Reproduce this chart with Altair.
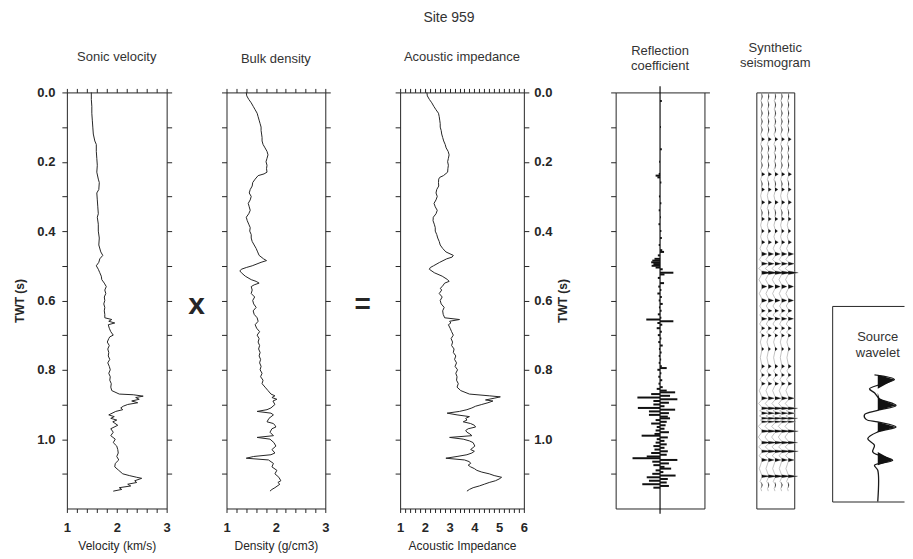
import altair as alt
import pandas as pd

FONT = "Liberation Sans"
INK = "#262626"
PANEL_H = 417

# ---------------- axes / tick values ----------------
TWT_DOMAIN = [0.0, 1.2]
TWT_TICKS = [0.0, 0.1, 0.2, 0.3, 0.4, 0.5, 0.6, 0.7, 0.8, 0.9, 1.0, 1.1]
VEL_TICKS = [1.0, 1.2, 1.4, 1.6, 1.8, 2.0, 2.2, 2.4, 2.6, 2.8, 3.0]
DEN_TICKS = [1.0, 1.2, 1.4, 1.6, 1.8, 2.0, 2.2, 2.4, 2.6, 2.8, 3.0]
IMP_TICKS = [1.0, 1.2, 1.4, 1.6, 1.8, 2.0, 2.2, 2.4, 2.6, 2.8, 3.0, 3.2, 3.4,
             3.6, 3.8, 4.0, 4.2, 4.4, 4.6, 4.8, 5.0, 5.2, 5.4, 5.6, 5.8, 6.0]
RC_DOMAIN = [-0.2, 0.2]
RC_AXIS_SPAN = [-0.018, 1.215]
SEIS_TRACES = [1, 2, 3, 4, 5]
SEIS_DOMAIN = [0.2, 5.9]
WAV_X_DOMAIN = [-45.7, 26.3]
WAV_Y_DOMAIN = [-69, 127]

# ---------------- sonic velocity (km/s) ----------------
vel_t = [0.00, 0.02, 0.04, 0.06, 0.08, 0.10, 0.12, 0.14, 0.15, 0.17,
         0.19, 0.21, 0.23, 0.25, 0.26, 0.28, 0.29, 0.31, 0.33, 0.35,
         0.36, 0.38, 0.40, 0.42, 0.44, 0.46, 0.47, 0.48, 0.49, 0.50,
         0.51, 0.52, 0.53, 0.54, 0.55, 0.56, 0.57, 0.58, 0.59, 0.60,
         0.61, 0.62, 0.63, 0.64, 0.65, 0.655, 0.66, 0.665, 0.67, 0.68,
         0.69, 0.70, 0.705, 0.71, 0.72, 0.73, 0.74, 0.75, 0.76, 0.77,
         0.78, 0.79, 0.80, 0.81, 0.82, 0.83, 0.84, 0.85, 0.86, 0.87,
         0.872, 0.876, 0.88, 0.885, 0.89, 0.895, 0.90, 0.905, 0.91, 0.915,
         0.92, 0.93, 0.935, 0.94, 0.945, 0.95, 0.96, 0.97, 0.98, 0.99,
         1.00, 1.01, 1.02, 1.03, 1.04, 1.05, 1.06, 1.07, 1.08, 1.09,
         1.10, 1.105, 1.11, 1.113, 1.12, 1.125, 1.13, 1.135, 1.14, 1.145,
         1.15]
vel_v = [1.49, 1.49, 1.50, 1.50, 1.51, 1.52, 1.53, 1.56, 1.59, 1.59,
         1.60, 1.61, 1.60, 1.63, 1.65, 1.64, 1.60, 1.61, 1.62, 1.63,
         1.61, 1.63, 1.63, 1.65, 1.64, 1.68, 1.72, 1.66, 1.64, 1.59,
         1.63, 1.66, 1.69, 1.70, 1.75, 1.79, 1.76, 1.78, 1.75, 1.76,
         1.74, 1.76, 1.75, 1.76, 1.76, 1.90, 1.84, 1.96, 1.83, 1.85,
         1.88, 1.93, 1.86, 1.84, 1.81, 1.85, 1.82, 1.84, 1.83, 1.86,
         1.82, 1.85, 1.87, 1.84, 1.87, 1.86, 1.89, 1.88, 1.90, 2.05,
         2.33, 2.53, 2.38, 2.45, 2.30, 2.42, 2.22, 2.13, 2.08, 2.12,
         1.98, 1.84, 1.95, 1.88, 2.00, 1.92, 2.02, 1.88, 1.93, 1.88,
         1.97, 1.93, 2.00, 2.02, 2.03, 2.00, 2.04, 1.97, 1.96, 2.04,
         2.12, 2.25, 2.40, 2.50, 2.36, 2.40, 2.22, 2.28, 2.05, 2.10,
         1.93]

# ---------------- bulk density (g/cm3) ----------------
den_t = [0.00, 0.01, 0.02, 0.03, 0.04, 0.05, 0.06, 0.07, 0.08, 0.09,
         0.10, 0.11, 0.12, 0.13, 0.14, 0.15, 0.16, 0.17, 0.18, 0.19,
         0.20, 0.21, 0.22, 0.23, 0.235, 0.24, 0.25, 0.26, 0.27, 0.28,
         0.29, 0.30, 0.31, 0.32, 0.33, 0.34, 0.35, 0.36, 0.37, 0.38,
         0.39, 0.40, 0.41, 0.42, 0.43, 0.44, 0.45, 0.46, 0.47, 0.48,
         0.485, 0.49, 0.50, 0.505, 0.51, 0.515, 0.52, 0.53, 0.54, 0.545,
         0.55, 0.555, 0.56, 0.57, 0.58, 0.59, 0.60, 0.61, 0.62, 0.63,
         0.64, 0.65, 0.66, 0.67, 0.68, 0.69, 0.70, 0.71, 0.72, 0.73,
         0.74, 0.75, 0.76, 0.77, 0.78, 0.79, 0.80, 0.81, 0.82, 0.83,
         0.84, 0.85, 0.86, 0.87, 0.875, 0.88, 0.885, 0.89, 0.90, 0.91,
         0.915, 0.92, 0.925, 0.93, 0.94, 0.95, 0.955, 0.96, 0.965, 0.97,
         0.98, 0.99, 0.995, 1.00, 1.01, 1.02, 1.03, 1.04, 1.045, 1.05,
         1.055, 1.06, 1.07, 1.08, 1.09, 1.10, 1.11, 1.12, 1.125, 1.13,
         1.14, 1.145, 1.15]
den_v = [1.40, 1.41, 1.45, 1.50, 1.54, 1.58, 1.62, 1.64, 1.66, 1.68,
         1.70, 1.70, 1.71, 1.72, 1.72, 1.74, 1.78, 1.82, 1.84, 1.82,
         1.80, 1.82, 1.81, 1.82, 1.76, 1.64, 1.58, 1.53, 1.52, 1.48,
         1.46, 1.50, 1.48, 1.44, 1.46, 1.48, 1.45, 1.40, 1.42, 1.45,
         1.48, 1.47, 1.50, 1.50, 1.52, 1.56, 1.60, 1.63, 1.66, 1.75,
         1.81, 1.70, 1.52, 1.40, 1.30, 1.27, 1.30, 1.38, 1.50, 1.60,
         1.66, 1.56, 1.50, 1.52, 1.50, 1.57, 1.53, 1.55, 1.60, 1.54,
         1.56, 1.62, 1.64, 1.58, 1.61, 1.67, 1.62, 1.66, 1.64, 1.67,
         1.65, 1.68, 1.66, 1.69, 1.67, 1.70, 1.68, 1.72, 1.69, 1.74,
         1.72, 1.78, 1.84, 1.90, 1.98, 1.92, 2.02, 1.94, 1.98, 1.90,
         1.82, 1.62, 1.90, 1.95, 1.86, 1.82, 1.95, 1.98, 2.00, 1.92,
         1.88, 1.95, 1.62, 1.88, 1.96, 2.00, 1.92, 1.98, 1.90, 1.55,
         1.40, 1.85, 1.95, 1.92, 2.02, 1.98, 2.06, 2.10, 2.04, 2.08,
         1.98, 1.92, 1.88]

# ---------------- acoustic impedance ----------------
imp_t = [0.00, 0.01, 0.02, 0.03, 0.04, 0.05, 0.06, 0.07, 0.08, 0.09,
         0.10, 0.11, 0.12, 0.13, 0.14, 0.15, 0.16, 0.17, 0.18, 0.19,
         0.20, 0.21, 0.22, 0.23, 0.24, 0.245, 0.25, 0.26, 0.27, 0.28,
         0.29, 0.30, 0.31, 0.32, 0.33, 0.34, 0.35, 0.36, 0.37, 0.38,
         0.39, 0.40, 0.41, 0.42, 0.43, 0.44, 0.45, 0.46, 0.47, 0.475,
         0.48, 0.49, 0.50, 0.505, 0.51, 0.52, 0.53, 0.54, 0.545, 0.55,
         0.56, 0.565, 0.57, 0.58, 0.59, 0.60, 0.61, 0.62, 0.63, 0.64,
         0.65, 0.655, 0.66, 0.665, 0.67, 0.68, 0.69, 0.70, 0.71, 0.72,
         0.73, 0.74, 0.75, 0.76, 0.77, 0.78, 0.79, 0.80, 0.81, 0.82,
         0.83, 0.84, 0.85, 0.86, 0.87, 0.875, 0.878, 0.882, 0.887, 0.89,
         0.895, 0.90, 0.905, 0.91, 0.915, 0.92, 0.925, 0.93, 0.935, 0.94,
         0.945, 0.95, 0.955, 0.96, 0.965, 0.97, 0.975, 0.98, 0.985, 0.99,
         0.995, 1.00, 1.005, 1.01, 1.02, 1.03, 1.035, 1.04, 1.045, 1.05,
         1.055, 1.06, 1.065, 1.07, 1.075, 1.08, 1.085, 1.09, 1.095, 1.10,
         1.105, 1.11, 1.115, 1.12, 1.125, 1.13, 1.135, 1.14, 1.145, 1.15]
imp_v = [2.08, 2.10, 2.18, 2.28, 2.36, 2.45, 2.55, 2.58, 2.60, 2.62,
         2.62, 2.66, 2.68, 2.72, 2.76, 2.82, 2.86, 2.94, 2.98, 2.95,
         2.92, 2.95, 2.93, 2.92, 2.75, 2.60, 2.56, 2.55, 2.56, 2.48,
         2.45, 2.50, 2.45, 2.37, 2.42, 2.50, 2.45, 2.34, 2.33, 2.38,
         2.42, 2.42, 2.48, 2.52, 2.58, 2.62, 2.72, 2.85, 3.15, 3.10,
         2.88, 2.60, 2.35, 2.22, 2.18, 2.38, 2.70, 2.92, 2.98, 2.80,
         2.70, 2.62, 2.68, 2.58, 2.70, 2.62, 2.66, 2.78, 2.72, 2.74,
         2.80, 3.40, 3.00, 3.05, 2.95, 3.02, 3.08, 3.15, 3.06, 3.12,
         3.08, 3.18, 3.15, 3.25, 3.20, 3.28, 3.22, 3.32, 3.25, 3.30,
         3.28, 3.35, 3.30, 3.45, 3.80, 4.60, 5.05, 4.80, 4.45, 4.75,
         4.55, 4.30, 4.05, 3.90, 3.70, 3.40, 2.90, 3.30, 3.80, 3.65,
         3.70, 3.55, 3.85, 4.00, 4.05, 3.75, 3.65, 3.70, 3.82, 3.90,
         3.00, 3.55, 3.80, 3.95, 4.02, 3.85, 4.00, 3.90, 3.70, 3.30,
         2.85, 3.60, 3.80, 3.85, 3.75, 3.85, 4.00, 4.10, 4.30, 4.60,
         4.80, 5.10, 5.00, 4.85, 4.60, 4.40, 4.20, 3.95, 3.80, 3.70]

# ---------------- reflection coefficient ----------------
rc_t = [0.025, 0.10, 0.164, 0.20, 0.235, 0.24, 0.245, 0.26, 0.30, 0.32,
        0.34, 0.36, 0.38, 0.40, 0.42, 0.44, 0.455, 0.46, 0.47, 0.48,
        0.485, 0.49, 0.495, 0.50, 0.505, 0.51, 0.52, 0.525, 0.535, 0.55,
        0.56, 0.57, 0.58, 0.59, 0.60, 0.61, 0.62, 0.63, 0.64, 0.65,
        0.655, 0.66, 0.665, 0.67, 0.68, 0.69, 0.70, 0.71, 0.72, 0.73,
        0.74, 0.75, 0.76, 0.77, 0.78, 0.79, 0.795, 0.80, 0.81, 0.82,
        0.83, 0.84, 0.85, 0.855, 0.86, 0.865, 0.87, 0.875, 0.88, 0.885,
        0.89, 0.895, 0.90, 0.905, 0.91, 0.915, 0.92, 0.925, 0.93, 0.935,
        0.94, 0.945, 0.95, 0.955, 0.96, 0.965, 0.97, 0.975, 0.98, 0.985,
        0.99, 0.995, 1.00, 1.005, 1.01, 1.015, 1.02, 1.025, 1.03, 1.035,
        1.04, 1.045, 1.05, 1.055, 1.06, 1.065, 1.07, 1.075, 1.08, 1.085,
        1.09, 1.095, 1.10, 1.105, 1.11, 1.115, 1.12, 1.125, 1.13, 1.135,
        1.14]
rc_r = [0.008, 0.004, 0.008, -0.004, -0.006, -0.020, -0.012, 0.006, -0.005, 0.006,
        -0.006, 0.004, -0.007, 0.006, 0.008, -0.006, 0.010, 0.018, -0.010, -0.025,
        -0.035, -0.040, -0.030, -0.038, -0.020, 0.012, 0.060, 0.020, -0.010, 0.018,
        -0.008, 0.006, -0.012, 0.008, -0.006, 0.012, -0.005, 0.007, -0.010, 0.006,
        -0.062, 0.060, -0.012, 0.010, -0.015, 0.008, -0.010, 0.006, -0.008, 0.012,
        -0.005, 0.007, -0.006, 0.005, -0.006, 0.008, 0.030, -0.012, 0.006, -0.008,
        0.010, -0.007, 0.012, -0.015, 0.030, 0.068, -0.040, 0.045, -0.102, 0.078,
        -0.030, 0.040, -0.030, 0.020, -0.100, 0.068, -0.050, 0.040, -0.050, 0.035,
        0.045, -0.020, 0.030, -0.040, 0.025, -0.015, 0.020, -0.020, 0.040, -0.025,
        -0.083, 0.035, -0.015, 0.020, -0.020, 0.030, -0.030, 0.020, -0.025, 0.035,
        -0.040, 0.030, -0.060, -0.124, 0.078, -0.035, 0.040, -0.030, 0.020, 0.050,
        -0.020, 0.015, -0.035, 0.070, -0.060, 0.035, -0.050, 0.030, -0.080, 0.040,
        -0.030]

# ---------------- synthetic seismogram trace ----------------
seis_t = [0.000, 0.012, 0.024, 0.036, 0.048, 0.060, 0.072, 0.084, 0.096, 0.108,
          0.120, 0.129, 0.135, 0.141, 0.150, 0.162, 0.174, 0.186, 0.198, 0.210,
          0.222, 0.230, 0.236, 0.242, 0.252, 0.264, 0.274, 0.280, 0.286, 0.298,
          0.311, 0.317, 0.323, 0.335, 0.347, 0.359, 0.365, 0.371, 0.383, 0.394,
          0.400, 0.406, 0.416, 0.426, 0.432, 0.438, 0.450, 0.460, 0.466, 0.472,
          0.482, 0.489, 0.494, 0.499, 0.508, 0.515, 0.520, 0.525, 0.540, 0.554,
          0.560, 0.566, 0.580, 0.594, 0.600, 0.606, 0.616, 0.625, 0.630, 0.635,
          0.642, 0.648, 0.653, 0.658, 0.668, 0.675, 0.680, 0.685, 0.692, 0.696,
          0.701, 0.706, 0.720, 0.734, 0.740, 0.746, 0.765, 0.784, 0.790, 0.796,
          0.803, 0.810, 0.815, 0.820, 0.828, 0.835, 0.840, 0.845, 0.860, 0.877,
          0.882, 0.887, 0.897, 0.907, 0.911, 0.915, 0.918, 0.921, 0.925, 0.929,
          0.933, 0.937, 0.940, 0.943, 0.945, 0.947, 0.950, 0.953, 0.963, 0.973,
          0.977, 0.981, 0.994, 1.006, 1.010, 1.014, 1.022, 1.031, 1.035, 1.039,
          1.048, 1.055, 1.060, 1.065, 1.085, 1.103, 1.107, 1.111, 1.122, 1.132,
          1.142, 1.150]
seis_a = [0.0, 0.12, -0.12, 0.12, -0.12, 0.12, -0.12, 0.12, -0.12, 0.12,
          -0.15, 0.0, 0.45, 0.0, -0.15, 0.12, -0.12, 0.12, -0.12, 0.12,
          -0.15, 0.0, 0.5, 0.0, -0.15, 0.12, 0.0, 0.45, 0.0, -0.15,
          0.0, 0.5, 0.0, -0.15, 0.12, 0.0, 0.45, 0.0, -0.15, 0.0,
          0.4, 0.0, -0.15, 0.0, 0.5, 0.0, -0.25, 0.0, 0.8, 0.0,
          -0.35, 0.0, 0.9, 0.0, -0.45, 0.0, 1.5, 0.0, -0.4, 0.0,
          0.8, 0.0, -0.35, 0.0, 0.8, 0.0, -0.3, 0.0, 0.55, 0.0,
          -0.3, 0.0, 0.8, 0.0, -0.3, 0.0, 0.5, 0.0, -0.25, 0.0,
          0.45, 0.0, -0.2, 0.0, 0.35, 0.0, -0.2, 0.0, 0.45, 0.0,
          -0.2, 0.0, 0.45, 0.0, -0.25, 0.0, 0.55, 0.0, -0.35, 0.0,
          0.9, 0.0, -0.45, 0.0, 1.4, 0.0, -0.3, 0.0, 1.0, 0.0,
          -0.35, 0.0, 1.4, 0.0, -0.2, 0.0, 1.1, 0.0, -0.5, 0.0,
          1.5, 0.0, -0.5, 0.0, 1.4, 0.0, -0.45, 0.0, 1.5, 0.0,
          -0.4, 0.0, 0.9, 0.0, -0.35, 0.0, 1.4, 0.0, -0.25, 0.12,
          -0.12, 0.0]

# ---------------- source wavelet ----------------
wav_t = [0, 4.7, 14, 18, 24, 30.7, 35.7, 40, 44.7, 47.3, 52.3, 57.3, 64, 70.7,
         77.3, 85.7, 90.7, 95.7, 127]
wav_a = [-3.3, 16.7, -8.3, -3.3, 1.7, 18.3, 0, -13.3, -11.7, 0, 18.3, 0, -10,
         -3.3, -5, 15, -3.3, 0, 0]

# ---------------- helpers ----------------
Y_LABEL_EXPR = "(round(datum.value * 10) % 2 == 0) ? format(datum.value, '.1f') : ''"
X_LABEL_EXPR = "abs(datum.value - round(datum.value)) < 0.01 ? toString(round(datum.value)) : ''"


def y_axis(orient, labels):
    kw = dict(orient=orient, values=TWT_TICKS, tickSize=5, labelFlush=False,
              labelOverlap=False, domain=False, grid=False, tickColor=INK)
    if labels:
        kw.update(labels=True, labelExpr=Y_LABEL_EXPR, title="TWT (s)",
                  labelFontSize=13, labelFontWeight="bold", labelColor=INK,
                  labelFont=FONT, titleFont=FONT, titleFontSize=12,
                  titleFontWeight="bold", titleColor=INK, labelPadding=7,
                  titlePadding=10)
        if orient == "right":
            kw.update(titleAngle=270, titleBaseline="top", titlePadding=6,
                      labelPadding=5)
    else:
        kw.update(labels=False, title="")
    return alt.Axis(**kw)


def x_axis_bottom(ticks, title):
    return alt.Axis(orient="bottom", values=ticks, labelExpr=X_LABEL_EXPR,
                    tickSize=4, labelFlush=False, labelOverlap=False,
                    domain=False, grid=False, tickColor=INK, title=title,
                    labelFont=FONT, labelFontSize=13, labelFontWeight="bold",
                    labelColor=INK, labelPadding=9, titleFont=FONT,
                    titleFontSize=12, titleFontWeight="normal",
                    titleColor=INK, titlePadding=6)


def x_axis_top(ticks):
    return alt.Axis(orient="top", values=ticks, labels=False, tickSize=4,
                    domain=False, grid=False, tickColor=INK, title="")


def frame_axis(orient):
    return alt.Axis(orient=orient, domain=True, domainColor=INK, domainWidth=1,
                    ticks=False, labels=False, grid=False, title="")


def panel_title(text, offset):
    return alt.Title(text, font=FONT, fontSize=13, fontWeight="normal",
                     color="#333333", offset=offset, lineHeight=15)


TWT_SCALE = alt.Scale(domain=TWT_DOMAIN, reverse=True, nice=False, zero=False)


def log_panel(t, v, domain, ticks, xtitle, ptitle, left_labels, right_labels, width):
    df = pd.DataFrame({"t": t, "v": v})
    xs = alt.Scale(domain=domain, nice=False, zero=False)
    main = alt.Chart(df).mark_line(color=INK, strokeWidth=1).encode(
        x=alt.X("v:Q", scale=xs, axis=x_axis_bottom(ticks, xtitle)),
        y=alt.Y("t:Q", scale=TWT_SCALE, axis=y_axis("left", left_labels)),
        order="t:Q",
    )
    ghost = alt.Chart(df).mark_line(strokeOpacity=0).encode(
        x=alt.X("v:Q", scale=xs, axis=x_axis_top(ticks)),
        y=alt.Y("t:Q", scale=TWT_SCALE, axis=y_axis("right", right_labels)),
        order="t:Q",
    )
    return alt.layer(main, ghost).resolve_axis(x="independent", y="independent").properties(
        width=width, height=PANEL_H, title=panel_title(ptitle, 22))


def spacer(w, h, symbol="", size=28):
    return alt.Chart(pd.DataFrame({"s": [symbol]})).mark_text(
        font=FONT, fontSize=size, fontWeight="bold", color=INK, dy=5
    ).encode(text="s:N").properties(
        width=w, height=h, view=alt.ViewBackground(stroke="transparent"))


# ---------------- panels ----------------
vel = log_panel(vel_t, vel_v, [1, 3], VEL_TICKS, "Velocity (km/s)",
                "Sonic velocity", True, False, 100)
den = log_panel(den_t, den_v, [1, 3], DEN_TICKS, "Density (g/cm3)",
                "Bulk density", False, False, 99)
imp = log_panel(imp_t, imp_v, [1, 6], IMP_TICKS, "Acoustic Impedance",
                "Acoustic impedance", False, True, 124)

# reflection coefficient
rc_df = pd.DataFrame({"t": rc_t, "r": rc_r})
rc_x = alt.Scale(domain=RC_DOMAIN, nice=False, zero=False)
rc_spikes = alt.Chart(rc_df).mark_rule(color="#111111", strokeWidth=2).encode(
    x=alt.X("r:Q", scale=rc_x, axis=None),
    x2=alt.datum(0),
    y=alt.Y("t:Q", scale=TWT_SCALE, axis=y_axis("left", False)),
)
rc_axis_df = pd.DataFrame({"r": [0.0], "t0": [RC_AXIS_SPAN[0]], "t1": [RC_AXIS_SPAN[1]]})
rc_line = alt.Chart(rc_axis_df).mark_rule(color="#111111", strokeWidth=1.2).encode(
    x=alt.X("r:Q", scale=rc_x, axis=None),
    y=alt.Y("t0:Q", scale=TWT_SCALE, axis=y_axis("right", False)),
    y2="t1:Q",
)
rc = alt.layer(rc_line, rc_spikes).resolve_axis(y="independent").properties(
    width=89, height=PANEL_H, title=panel_title(["Reflection", "coefficient"], 13))

# synthetic seismogram: five copies of one trace, positive lobes filled
seis_rows = []
for k in SEIS_TRACES:
    for tt, aa in zip(seis_t, seis_a):
        seis_rows.append({"k": k, "t": tt, "xw": k + aa, "xf": k + max(aa, 0.0), "x0": float(k)})
seis_df = pd.DataFrame(seis_rows)
seis_x = alt.Scale(domain=SEIS_DOMAIN, nice=False, zero=False)
seis_fill = alt.Chart(seis_df).mark_area(color="#111111", orient="horizontal").encode(
    x=alt.X("xf:Q", scale=seis_x, axis=None),
    x2="x0",
    y=alt.Y("t:Q", scale=TWT_SCALE, axis=None),
    detail="k:N",
)
seis_line = alt.Chart(seis_df).mark_line(color="#a8a8a8", strokeWidth=0.7).encode(
    x=alt.X("xw:Q", scale=seis_x, axis=None),
    y=alt.Y("t:Q", scale=TWT_SCALE, axis=None),
    detail="k:N",
    order="t:Q",
)
seis = alt.layer(seis_line, seis_fill).properties(
    width=38, height=PANEL_H, title=panel_title(["Synthetic", "seismogram"], 21))

# source wavelet (box open to the right, as in the figure)
wav_df = pd.DataFrame({"t": wav_t, "a": wav_a, "af": [max(a, 0.0) for a in wav_a],
                       "a0": [0.0 for _ in wav_a]})
wav_x = alt.Scale(domain=WAV_X_DOMAIN, nice=False, zero=False)
wav_y = alt.Scale(domain=WAV_Y_DOMAIN, reverse=True, nice=False, zero=False)
wav_line = alt.Chart(wav_df).mark_line(color="#1a1a1a", strokeWidth=1.3,
                                       interpolate="catmull-rom").encode(
    x=alt.X("a:Q", scale=wav_x, axis=frame_axis("bottom")),
    y=alt.Y("t:Q", scale=wav_y, axis=frame_axis("left")),
    order="t:Q",
)
wav_fill = alt.Chart(wav_df).mark_area(color="#111111", orient="horizontal").encode(
    x=alt.X("af:Q", scale=wav_x, axis=frame_axis("top")),
    x2="a0",
    y=alt.Y("t:Q", scale=wav_y, axis=frame_axis("left")),
)
wav_label = alt.Chart(pd.DataFrame({"a": [0.0], "t": [-38.0], "s": ["Source\nwavelet"]})).mark_text(
    font=FONT, fontSize=13, color="#333333", lineBreak="\n", lineHeight=16, baseline="middle"
).encode(
    x=alt.X("a:Q", scale=wav_x, axis=None),
    y=alt.Y("t:Q", scale=wav_y, axis=frame_axis("left")),
    text="s:N",
)
wav_box = alt.layer(wav_line, wav_fill, wav_label).resolve_axis(x="independent").properties(
    width=72, height=196, view=alt.ViewBackground(stroke="transparent"))
wav_col = alt.vconcat(spacer(72, 214), wav_box, spacing=0, bounds="flush")

chart = alt.hconcat(
    vel, spacer(60, PANEL_H, "x", 30), den, spacer(75, PANEL_H, "=", 28), imp,
    spacer(92, PANEL_H), rc, spacer(52, PANEL_H), seis, spacer(38, PANEL_H), wav_col,
    spacing=0, bounds="flush",
).properties(
    title=alt.Title("Site 959", font=FONT, fontSize=14, fontWeight="normal",
                    color="#333333", anchor="middle", dx=-10, offset=17),
    padding={"left": 5, "top": 2, "right": 0, "bottom": 0},
).configure_view(stroke=INK, strokeWidth=1).configure_axis(grid=False)

chart.save("out.html", embed_options={"renderer": "svg", "actions": False})
